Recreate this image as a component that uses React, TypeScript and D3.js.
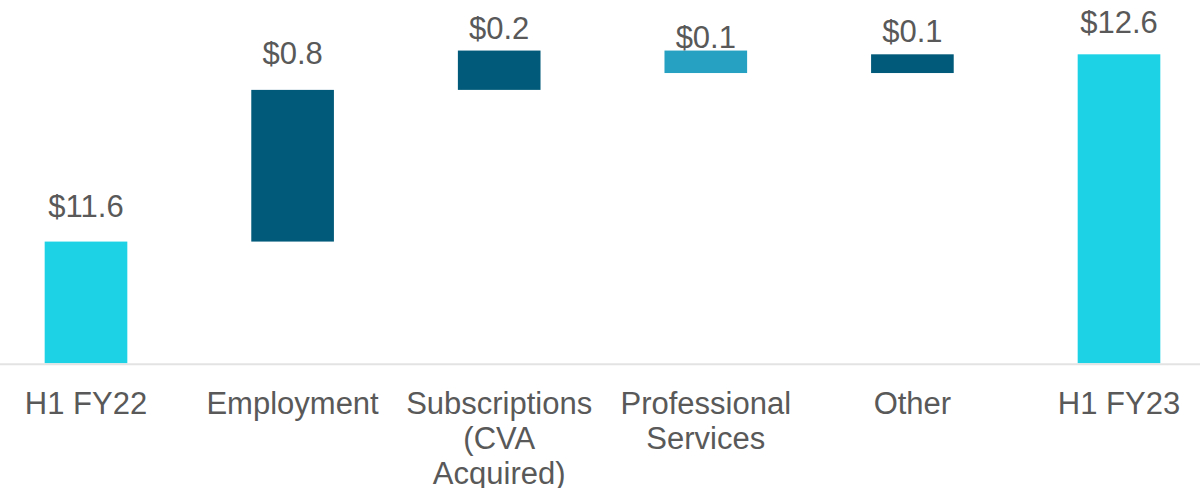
import React, { useEffect, useRef } from 'react';
import * as d3 from 'd3';

// waterfall data ($m)
const categories = ['H1 FY22', 'Employment', 'Subscriptions (CVA Acquired)', 'Professional Services', 'Other', 'H1 FY23'];
const tickLabels = [['H1 FY22'], ['Employment'], ['Subscriptions', '(CVA', 'Acquired)'], ['Professional', 'Services'], ['Other'], ['H1 FY23']];
const startValue = 11.6;
const deltas = [0.81, 0.21, -0.12, 0.1];
const endValue = 12.6;

const WIDTH = 1200;
const HEIGHT = 488;
const CYAN = '#1ed2e6';
const DARK = '#025a7a';
const MID = '#27a1c1';
const TEXT = '#595959';
// how far each value label sits above its bar top (px)
const labelGap = [25, 26, 12, 3, 12, 21];

export default function App() {
  const ref = useRef<SVGSVGElement>(null);

  useEffect(() => {
    const svg = d3.select(ref.current);
    svg.selectAll('*').remove();

    // build floating segments
    const rows: { cat: string; y0: number; y1: number; label: number; color: string }[] = [];
    rows.push({ cat: categories[0], y0: 0, y1: startValue, label: startValue, color: CYAN });
    let run = startValue;
    deltas.forEach((d, i) => {
      rows.push({ cat: categories[i + 1], y0: run, y1: run + d, label: Math.abs(d), color: d < 0 ? MID : DARK });
      run += d;
    });
    rows.push({ cat: categories[5], y0: 0, y1: endValue, label: endValue, color: CYAN });

    const baseline = 363.3;
    const x = d3.scaleBand<string>().domain(categories).range([-17.3, 1222.3]).paddingInner(0.6).paddingOuter(0.3);
    const y = d3.scaleLinear().domain([10.95, 12.89]).range([baseline, 0]);
    const yc = (v: number) => Math.min(y(v), baseline);

    svg
      .selectAll('rect.bar')
      .data(rows)
      .enter()
      .append('rect')
      .attr('class', 'bar')
      .attr('x', (d) => x(d.cat)!)
      .attr('width', x.bandwidth())
      .attr('y', (d) => Math.min(yc(d.y0), yc(d.y1)))
      .attr('height', (d) => Math.abs(yc(d.y0) - yc(d.y1)))
      .attr('fill', (d) => d.color);

    // axis line
    svg
      .append('line')
      .attr('x1', 0)
      .attr('x2', WIDTH)
      .attr('y1', baseline + 1)
      .attr('y2', baseline + 1)
      .attr('stroke', '#e3e3e3')
      .attr('stroke-width', 2);

    // value labels
    svg
      .selectAll('text.val')
      .data(rows)
      .enter()
      .append('text')
      .attr('class', 'val')
      .attr('x', (d) => x(d.cat)! + x.bandwidth() / 2)
      .attr('y', (d, i) => Math.min(yc(d.y0), yc(d.y1)) - labelGap[i])
      .attr('text-anchor', 'middle')
      .attr('fill', TEXT)
      .style('font', '31px "Liberation Sans", Arial, sans-serif')
      .text((d) => `$${d.label.toFixed(1)}`);

    // category labels
    const ticks = svg
      .selectAll('text.tick')
      .data(categories)
      .enter()
      .append('text')
      .attr('class', 'tick')
      .attr('text-anchor', 'middle')
      .attr('fill', TEXT)
      .style('font', '31px "Liberation Sans", Arial, sans-serif');

    ticks
      .selectAll('tspan')
      .data((d, i) => tickLabels[i].map((t) => ({ t, c: d })))
      .enter()
      .append('tspan')
      .attr('x', (d) => x(d.c)! + x.bandwidth() / 2)
      .attr('y', (d, j) => 414 + j * 35)
      .text((d) => d.t);
  }, []);

  return (
    <div style={{ position: 'absolute', left: 0, top: 0 }}>
      <svg ref={ref} width={WIDTH} height={HEIGHT} style={{ display: 'block', background: '#fff' }} />
    </div>
  );
}
